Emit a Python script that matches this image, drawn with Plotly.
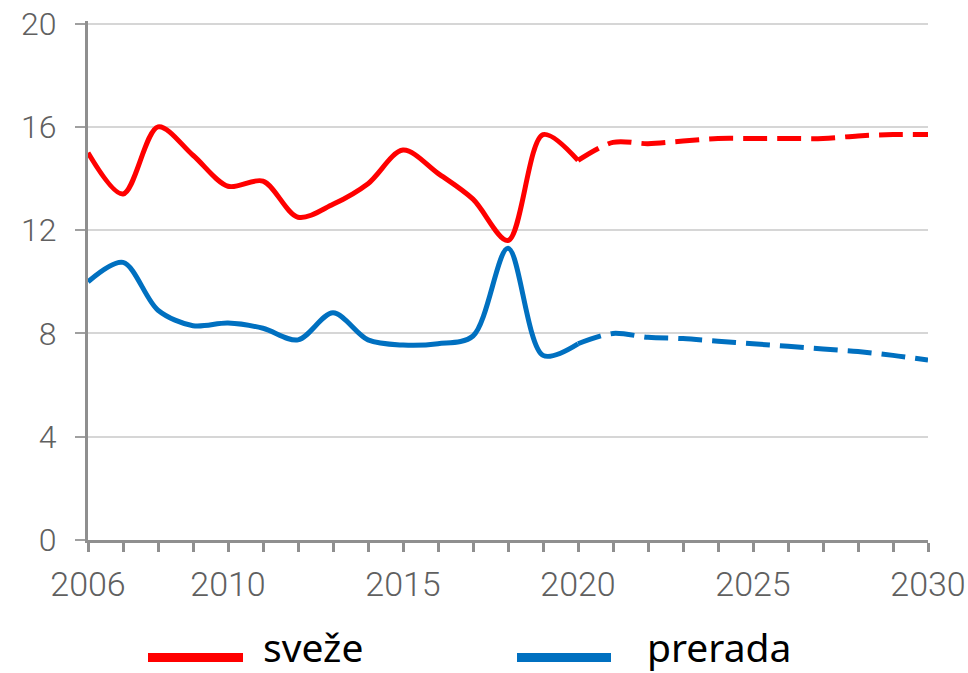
import plotly.graph_objects as go

years_hist = list(range(2006, 2021))
years_proj = list(range(2020, 2031))

sveze_hist = [15.0, 13.4, 16.0, 14.9, 13.7, 13.9, 12.5, 13.0, 13.8, 15.1, 14.2, 13.2, 11.6, 15.7, 14.7]
sveze_proj = [14.7, 15.4, 15.35, 15.45, 15.55, 15.55, 15.55, 15.55, 15.65, 15.7, 15.7]
prerada_hist = [10.0, 10.75, 8.9, 8.3, 8.4, 8.2, 7.75, 8.8, 7.75, 7.55, 7.6, 7.9, 11.3, 7.15, 7.6]
prerada_proj = [7.6, 8.0, 7.85, 7.8, 7.7, 7.6, 7.5, 7.4, 7.3, 7.15, 6.97]

series_names = ["sveže", "prerada"]
series_colors = ["#FF0000", "#0070C0"]

x_tickvals = [2006, 2010, 2015, 2020, 2025, 2030]
y_tickvals = [0, 4, 8, 12, 16, 20]

fig = go.Figure()
for name, color, hist, proj in [
    (series_names[0], series_colors[0], sveze_hist, sveze_proj),
    (series_names[1], series_colors[1], prerada_hist, prerada_proj),
]:
    fig.add_trace(go.Scatter(x=years_hist, y=hist, mode="lines", name=name,
                             line=dict(color=color, width=5, shape="spline", smoothing=0.9),
                             showlegend=False))
    fig.add_trace(go.Scatter(x=years_proj, y=proj, mode="lines", name=name + " (projekcija)",
                             line=dict(color=color, width=5, shape="spline", smoothing=0.9,
                                       dash="24px,10px"),
                             showlegend=False))

tick_family = "Roboto, Open Sans, DejaVu Sans"

W, H = 968, 673
L, R, T, B = 88, 40, 21, 133

fig.update_layout(
    width=W, height=H,
    margin=dict(l=L, r=R, t=T, b=B, autoexpand=False),
    paper_bgcolor="white", plot_bgcolor="white",
    xaxis=dict(range=[2006, 2030], tickvals=x_tickvals, ticktext=[str(v) for v in x_tickvals],
               automargin=False, ticklabeloverflow="allow",
               showgrid=False, zeroline=False, showline=True, linecolor="#8f8f8f", linewidth=3,
               ticks="outside", ticklen=9, tickwidth=3, tickcolor="#8f8f8f",
               ticklabelstandoff=3,
               minor=dict(dtick=1, tick0=2006, ticks="outside", ticklen=9, tickwidth=3,
                          tickcolor="#8f8f8f", showgrid=False),
               tickfont=dict(family=tick_family, size=34, color="#606060", weight=300)),
    yaxis=dict(range=[0, 20.1], tickvals=y_tickvals, showgrid=True, gridcolor="#d6d6d6", gridwidth=2,
               automargin=False, ticklabeloverflow="allow",
               zeroline=False, showline=True, linecolor="#8f8f8f", linewidth=3,
               ticks="outside", ticklen=10, tickwidth=2, tickcolor="#a0a0a0",
               ticklabelstandoff=12,
               tickfont=dict(family=tick_family, size=32, color="#606060", weight=300)),
)

# custom legend (coordinates in reference-picture pixels)
def px_x(p):
    return (p - L) / (W - L - R)

def px_y(p):
    return (H - B - p) / (H - T - B)

legend_items = [
    (series_names[0], series_colors[0], 148, 243, 262),
    (series_names[1], series_colors[1], 517, 611, 646),
]
for name, color, x0, x1, tx in legend_items:
    fig.add_shape(type="line", xref="paper", yref="paper",
                  x0=px_x(x0), x1=px_x(x1), y0=px_y(657.5), y1=px_y(657.5),
                  line=dict(color=color, width=9))
    fig.add_annotation(xref="paper", yref="paper", x=px_x(tx), y=px_y(646.5),
                       text=name, showarrow=False, xanchor="left", yanchor="middle",
                       borderpad=0,
                       font=dict(family="Noto Sans", size=39, color="black"))

fig.write_html("out.html", config={"displayModeBar": False},
               post_script="document.body.style.margin='0';")
